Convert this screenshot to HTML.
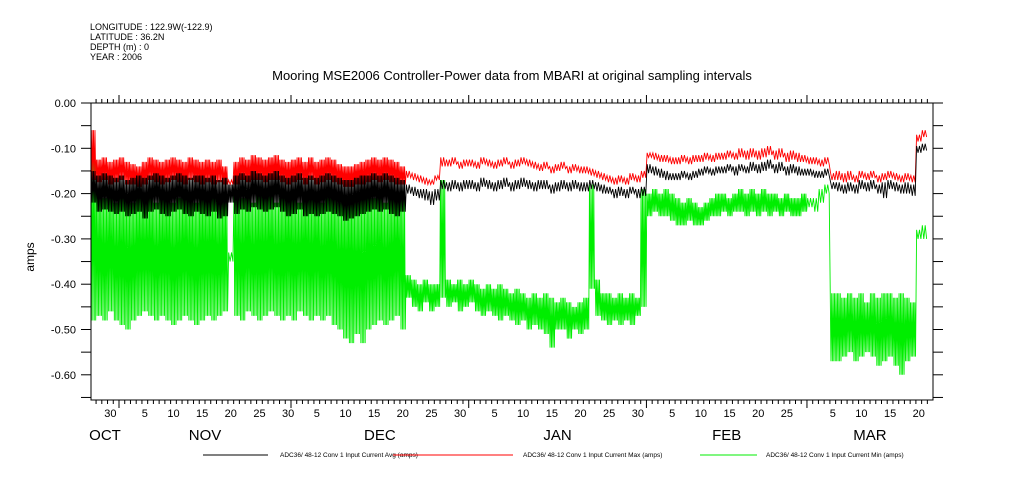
<!DOCTYPE html>
<html><head><meta charset="utf-8"><style>
html,body{margin:0;padding:0;background:#fff;}
svg{display:block;font-family:"Liberation Sans",sans-serif;}
</style></head><body>
<svg id="chart" width="1009" height="504" xmlns="http://www.w3.org/2000/svg">
<g font-size="9" fill="#000">
<text x="90" y="30">LONGITUDE : 122.9W(-122.9)</text>
<text x="90" y="40">LATITUDE : 36.2N</text>
<text x="90" y="50">DEPTH (m) : 0</text>
<text x="90" y="60">YEAR : 2006</text>
</g>
<text x="512" y="80" text-anchor="middle" font-size="13">Mooring MSE2006 Controller-Power data from MBARI at original sampling intervals</text>
<text transform="translate(34,257) rotate(-90)" text-anchor="middle" font-size="12">amps</text>
<defs><clipPath id="pc"><rect x="91" y="103" width="842" height="297"/></clipPath></defs>
<g id="series" clip-path="url(#pc)"></g>
<g id="axes"></g>
<g id="legend" font-size="6.5"></g>
</svg>
<script>
const redHi=[-0.06,-0.125,-0.12,-0.13,-0.125,-0.12,-0.13,-0.135,-0.14,-0.13,
-0.12,-0.125,-0.13,-0.125,-0.12,-0.125,-0.13,-0.12,-0.125,-0.13,
-0.125,-0.13,-0.125,-0.14,-0.17,-0.13,-0.12,-0.125,-0.115,-0.12,
-0.125,-0.12,-0.115,-0.125,-0.13,-0.125,-0.12,-0.13,-0.12,-0.13,
-0.125,-0.12,-0.125,-0.135,-0.14,-0.14,-0.135,-0.13,-0.125,-0.12,
-0.125,-0.12,-0.125,-0.13,-0.14,-0.15,-0.155,-0.16,-0.165,-0.17,
-0.16,-0.12,-0.125,-0.12,-0.13,-0.125,-0.125,-0.13,-0.12,-0.125,
-0.13,-0.125,-0.12,-0.13,-0.125,-0.12,-0.125,-0.13,-0.135,-0.13,
-0.14,-0.135,-0.13,-0.14,-0.135,-0.14,-0.14,-0.145,-0.15,-0.155,
-0.16,-0.165,-0.16,-0.165,-0.155,-0.16,-0.15,-0.11,-0.11,-0.115,
-0.115,-0.12,-0.12,-0.115,-0.12,-0.115,-0.115,-0.11,-0.115,-0.11,
-0.11,-0.105,-0.11,-0.1,-0.105,-0.1,-0.105,-0.1,-0.095,-0.105,
-0.1,-0.11,-0.105,-0.11,-0.115,-0.12,-0.12,-0.125,-0.12,-0.155,
-0.15,-0.155,-0.15,-0.16,-0.15,-0.155,-0.15,-0.16,-0.155,-0.15,
-0.155,-0.16,-0.155,-0.16,-0.07,-0.06];
const redLo=[-0.17,-0.175,-0.17,-0.18,-0.175,-0.17,-0.18,-0.18,-0.185,-0.18,
-0.17,-0.175,-0.18,-0.175,-0.17,-0.175,-0.18,-0.17,-0.175,-0.18,
-0.175,-0.18,-0.175,-0.18,-0.18,-0.18,-0.17,-0.175,-0.17,-0.17,
-0.175,-0.17,-0.17,-0.175,-0.18,-0.175,-0.17,-0.18,-0.17,-0.18,
-0.175,-0.17,-0.175,-0.18,-0.185,-0.185,-0.18,-0.18,-0.175,-0.17,
-0.175,-0.17,-0.175,-0.18,-0.18,-0.165,-0.17,-0.175,-0.18,-0.18,
-0.17,-0.14,-0.14,-0.135,-0.145,-0.14,-0.14,-0.145,-0.135,-0.14,
-0.145,-0.14,-0.135,-0.145,-0.14,-0.135,-0.14,-0.145,-0.15,-0.145,
-0.155,-0.15,-0.145,-0.155,-0.15,-0.155,-0.155,-0.16,-0.165,-0.17,
-0.175,-0.18,-0.175,-0.18,-0.17,-0.175,-0.165,-0.12,-0.125,-0.13,
-0.13,-0.135,-0.135,-0.13,-0.135,-0.13,-0.13,-0.125,-0.13,-0.125,
-0.125,-0.12,-0.125,-0.12,-0.125,-0.12,-0.125,-0.12,-0.115,-0.125,
-0.12,-0.13,-0.125,-0.13,-0.13,-0.135,-0.135,-0.14,-0.135,-0.17,
-0.17,-0.175,-0.17,-0.175,-0.165,-0.17,-0.165,-0.175,-0.17,-0.165,
-0.17,-0.175,-0.17,-0.175,-0.085,-0.075];
const blkHi=[-0.15,-0.16,-0.155,-0.16,-0.165,-0.16,-0.17,-0.165,-0.16,-0.165,
-0.16,-0.155,-0.16,-0.165,-0.16,-0.155,-0.16,-0.165,-0.16,-0.16,
-0.165,-0.16,-0.17,-0.165,-0.18,-0.16,-0.155,-0.16,-0.15,-0.155,
-0.16,-0.155,-0.15,-0.16,-0.165,-0.16,-0.155,-0.165,-0.16,-0.165,
-0.16,-0.155,-0.16,-0.165,-0.17,-0.17,-0.165,-0.16,-0.16,-0.155,
-0.16,-0.155,-0.16,-0.165,-0.17,-0.18,-0.185,-0.19,-0.19,-0.195,
-0.19,-0.17,-0.175,-0.17,-0.175,-0.17,-0.17,-0.175,-0.165,-0.17,
-0.175,-0.17,-0.165,-0.175,-0.17,-0.165,-0.17,-0.175,-0.17,-0.17,
-0.18,-0.175,-0.17,-0.175,-0.17,-0.175,-0.175,-0.17,-0.175,-0.18,
-0.185,-0.19,-0.185,-0.19,-0.185,-0.19,-0.185,-0.135,-0.14,-0.145,
-0.15,-0.155,-0.155,-0.15,-0.155,-0.15,-0.145,-0.14,-0.145,-0.14,
-0.14,-0.135,-0.14,-0.135,-0.14,-0.13,-0.135,-0.13,-0.125,-0.135,
-0.13,-0.14,-0.135,-0.14,-0.145,-0.145,-0.15,-0.15,-0.145,-0.175,
-0.175,-0.18,-0.175,-0.18,-0.17,-0.175,-0.17,-0.18,-0.175,-0.17,
-0.175,-0.18,-0.175,-0.18,-0.095,-0.09];
const blkLo=[-0.22,-0.24,-0.235,-0.24,-0.245,-0.24,-0.25,-0.245,-0.24,-0.255,
-0.24,-0.235,-0.245,-0.25,-0.24,-0.235,-0.245,-0.25,-0.24,-0.245,
-0.25,-0.24,-0.255,-0.25,-0.22,-0.245,-0.235,-0.24,-0.23,-0.235,
-0.24,-0.235,-0.23,-0.24,-0.25,-0.245,-0.235,-0.25,-0.245,-0.25,
-0.245,-0.24,-0.245,-0.25,-0.26,-0.255,-0.25,-0.245,-0.24,-0.235,
-0.24,-0.235,-0.245,-0.25,-0.24,-0.2,-0.205,-0.21,-0.215,-0.225,
-0.215,-0.19,-0.195,-0.19,-0.195,-0.19,-0.19,-0.195,-0.185,-0.19,
-0.195,-0.19,-0.185,-0.195,-0.19,-0.185,-0.19,-0.195,-0.19,-0.19,
-0.2,-0.195,-0.19,-0.195,-0.19,-0.195,-0.195,-0.19,-0.195,-0.2,
-0.2,-0.21,-0.205,-0.21,-0.2,-0.21,-0.205,-0.155,-0.16,-0.165,
-0.17,-0.17,-0.17,-0.165,-0.17,-0.165,-0.16,-0.155,-0.16,-0.155,
-0.155,-0.15,-0.16,-0.15,-0.155,-0.15,-0.155,-0.15,-0.145,-0.155,
-0.15,-0.16,-0.155,-0.16,-0.16,-0.16,-0.165,-0.165,-0.16,-0.19,
-0.195,-0.2,-0.195,-0.2,-0.19,-0.195,-0.19,-0.2,-0.21,-0.19,
-0.195,-0.2,-0.2,-0.205,-0.11,-0.105];
const grnHi=[-0.12,-0.2,-0.21,-0.2,-0.22,-0.2,-0.21,-0.22,-0.2,-0.21,
-0.2,-0.22,-0.21,-0.2,-0.22,-0.21,-0.2,-0.21,-0.22,-0.2,
-0.21,-0.2,-0.22,-0.21,-0.33,-0.2,-0.21,-0.2,-0.22,-0.2,
-0.21,-0.2,-0.22,-0.21,-0.2,-0.21,-0.22,-0.2,-0.21,-0.2,
-0.22,-0.21,-0.2,-0.22,-0.21,-0.2,-0.22,-0.21,-0.2,-0.21,
-0.2,-0.22,-0.21,-0.2,-0.21,-0.38,-0.39,-0.4,-0.39,-0.4,
-0.4,-0.17,-0.39,-0.4,-0.39,-0.4,-0.39,-0.4,-0.41,-0.4,
-0.41,-0.4,-0.41,-0.42,-0.41,-0.42,-0.43,-0.42,-0.43,-0.42,
-0.43,-0.44,-0.43,-0.44,-0.45,-0.44,-0.43,-0.18,-0.39,-0.42,
-0.42,-0.43,-0.42,-0.43,-0.42,-0.43,-0.19,-0.2,-0.19,-0.2,
-0.19,-0.2,-0.21,-0.22,-0.21,-0.22,-0.23,-0.22,-0.21,-0.2,
-0.2,-0.21,-0.2,-0.19,-0.2,-0.19,-0.2,-0.19,-0.2,-0.2,
-0.21,-0.2,-0.21,-0.21,-0.2,-0.21,-0.21,-0.19,-0.18,-0.42,
-0.42,-0.43,-0.42,-0.43,-0.42,-0.44,-0.42,-0.43,-0.42,-0.42,
-0.43,-0.42,-0.43,-0.44,-0.28,-0.27];
const grnLo=[-0.48,-0.47,-0.48,-0.46,-0.48,-0.49,-0.5,-0.48,-0.47,-0.46,
-0.47,-0.48,-0.47,-0.48,-0.49,-0.48,-0.47,-0.48,-0.49,-0.48,
-0.47,-0.48,-0.47,-0.46,-0.35,-0.47,-0.48,-0.46,-0.47,-0.48,
-0.47,-0.46,-0.47,-0.48,-0.47,-0.48,-0.46,-0.47,-0.48,-0.47,
-0.48,-0.47,-0.49,-0.5,-0.52,-0.53,-0.51,-0.53,-0.5,-0.49,
-0.48,-0.49,-0.48,-0.47,-0.5,-0.43,-0.45,-0.46,-0.44,-0.46,
-0.45,-0.43,-0.45,-0.44,-0.46,-0.45,-0.44,-0.46,-0.47,-0.46,
-0.47,-0.48,-0.47,-0.48,-0.49,-0.48,-0.5,-0.49,-0.5,-0.51,
-0.54,-0.5,-0.5,-0.52,-0.5,-0.51,-0.5,-0.41,-0.47,-0.48,
-0.49,-0.48,-0.49,-0.48,-0.49,-0.47,-0.45,-0.25,-0.24,-0.25,
-0.25,-0.26,-0.27,-0.27,-0.26,-0.27,-0.27,-0.26,-0.25,-0.25,
-0.24,-0.25,-0.24,-0.24,-0.25,-0.24,-0.25,-0.24,-0.25,-0.24,
-0.25,-0.24,-0.25,-0.25,-0.24,-0.23,-0.24,-0.22,-0.2,-0.57,
-0.57,-0.56,-0.55,-0.57,-0.56,-0.55,-0.56,-0.58,-0.57,-0.56,
-0.58,-0.6,-0.57,-0.56,-0.3,-0.3];
const yTickValues=[0,-0.1,-0.2,-0.3,-0.4,-0.5,-0.6];
const yTickLabels=["0.00","-0.10","-0.20","-0.30","-0.40","-0.50","-0.60"];
const monthNames=["OCT","NOV","DEC","JAN","FEB","MAR"];
const monthStartDay=[-26,5,35,66,97,125];
const monthLength=[31,30,31,31,28,31];
const legendLabels=["ADC36/ 48-12 Conv 1 Input Current Avg (amps)","ADC36/ 48-12 Conv 1 Input Current Max (amps)","ADC36/ 48-12 Conv 1 Input Current Min (amps)"];

const NS="http://www.w3.org/2000/svg";
const L=91,R=933,T=103,B=400,DAYW=5.733;
const X=d=>119+(d-5)*DAYW;
const Y=v=>103-v*453;
function mk(tag,attrs,parent){const e=document.createElementNS(NS,tag);for(const k in attrs)e.setAttribute(k,attrs[k]);parent.appendChild(e);return e;}
const series=document.getElementById('series');
function band(hi,lo,color,name){
  const n=Math.min(hi.length,lo.length);let pts=[];
  for(let i=0;i<n;i++){const dense=Math.abs(hi[i]-lo[i])>0.035;const N=dense?8:4;
    for(let k=0;k<N;k++){const x=X(i)+(k+0.5)/N*DAYW;const v=(k%2===0)?hi[i]:lo[i];pts.push(x.toFixed(2)+','+Y(v).toFixed(2));}}
  const p=mk('polyline',{points:pts.join(' '),fill:'none',stroke:color,'stroke-width':0.9},series);
  
  
}
band(grnHi,grnLo,'#00ee00','min-current-series');
band(redHi,redLo,'#ff0000','max-current-series');
band(blkHi,blkLo,'#000000','avg-current-series');

const ax=document.getElementById('axes');
const frame=mk('rect',{x:L,y:T,width:R-L,height:B-T,fill:'none',stroke:'#000','stroke-width':1},ax);


for(let v=0;v>=-0.651;v-=0.05){const y=Y(v);mk('line',{x1:L-10,x2:L,y1:y,y2:y,stroke:'#000'},ax);mk('line',{x1:R,x2:R+10,y1:y,y2:y,stroke:'#000'},ax);}
yTickValues.forEach((v,i)=>{const t=mk('text',{x:76,y:Y(v)+4,'text-anchor':'end','font-size':11},ax);t.textContent=yTickLabels[i];

});
for(let d=0;d<=147;d++){const x=X(d);if(x<L||x>R)continue;const major=monthStartDay.includes(d);const len=major?8:4;
mk('line',{x1:x,x2:x,y1:T,y2:T-len,stroke:'#000'},ax);mk('line',{x1:x,x2:x,y1:B,y2:B+len,stroke:'#000'},ax);}
monthNames.forEach((m,mi)=>{const s=monthStartDay[mi];
 for(let dd=5;dd<=30;dd+=5){if(dd>monthLength[mi])continue;const d=s+dd-1;const cx=X(d)+DAYW/2;if(cx<L+3||cx>R-3)continue;
  const t=mk('text',{x:cx,y:417,'text-anchor':'middle','font-size':11},ax);t.textContent=String(dd);
  
  }
 const a=Math.max(L,X(s)),b=Math.min(R,X(s+monthLength[mi]));
 const t=mk('text',{x:(a+b)/2,y:440,'text-anchor':'middle','font-size':15},ax);t.textContent=m;
 
 });

const lg=document.getElementById('legend');
const lc=['#000','#ff0000','#00ee00'],lx=[[203,268,280],[393,513,523],[700,757,766]];
legendLabels.forEach((s,i)=>{mk('line',{x1:lx[i][0],x2:lx[i][1],y1:455,y2:455,stroke:lc[i]},lg);
 const t=mk('text',{x:lx[i][2],y:457},lg);t.textContent=s;
 
 });
</script>
</body></html>
